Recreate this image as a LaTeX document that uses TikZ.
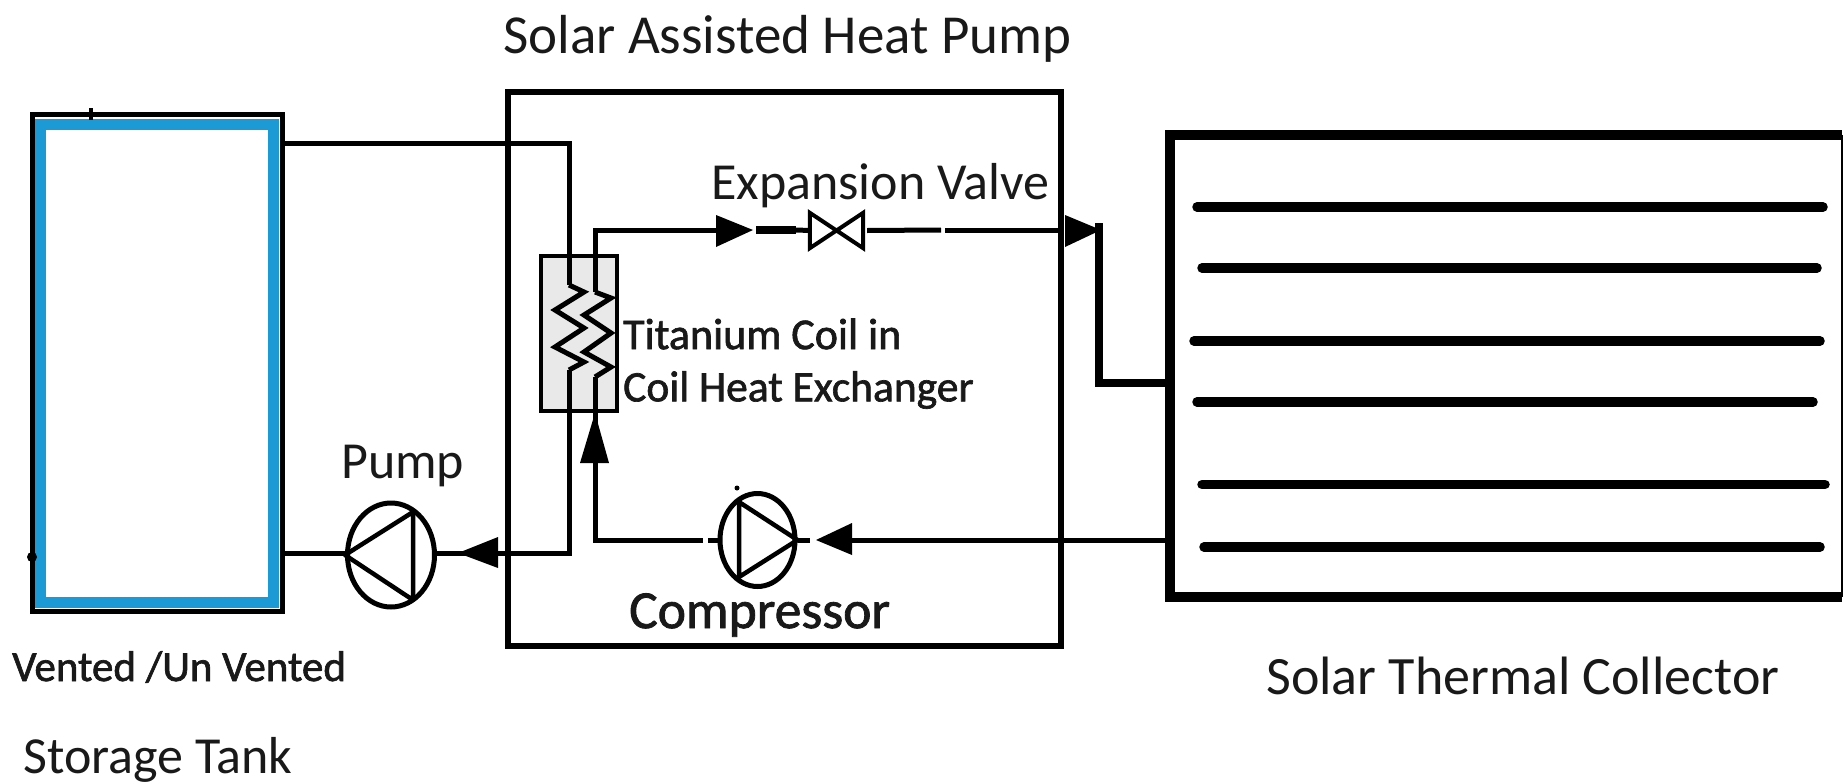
\documentclass[tikz,border=0pt]{standalone}
\usepackage{fontspec}
\setmainfont{Carlito}
\newfontfamily\semibold[FakeBold=1.5]{Carlito}
\usetikzlibrary{arrows.meta,shapes.geometric}
\definecolor{tankblue}{HTML}{1B9AD6}
\definecolor{hxgrey}{HTML}{E9E9E9}
\tikzset{
  pipe/.style={line width=5pt,black,line join=miter},
  thickpipe/.style={line width=8pt,black,line join=miter},
  flowhead/.style={line width=0pt,draw=none,fill=black},
  lbl/.style={anchor=west,inner sep=0pt,text=black!90},
  machine/.style={draw=black,ellipse,line width=5pt,inner sep=0pt,fill=white},
  bar/.style={line width=9.5pt,black,line cap=round},
  box/.style={draw=black,rectangle,inner sep=0pt}
}
\begin{document}
\begin{tikzpicture}[x=1pt,y=-1pt]
\useasboundingbox (0,0) rectangle (1844,784);
\fill[white] (0,0) rectangle (1844,784);
% enclosures
\node[box,draw=tankblue,line width=11pt,minimum width=232.5pt,minimum height=477.5pt] (tankin) at (156.75,363.25) {};
\node[box,line width=5pt,minimum width=250pt,minimum height=496.5pt] (tank) at (157.5,362.75) {};
\node[box,line width=5.5pt,minimum width=553pt,minimum height=554pt] (hp) at (784.5,369) {};
\node[box,draw=none,minimum width=672pt,minimum height=462pt] (collector) at (1506,366) {};
\draw[line width=10pt,line join=miter] (collector.north east) -- (collector.north west) -- (collector.south west) -- (collector.south east);
\draw[line width=1.6pt] (collector.north east) -- (collector.south east);
\node[box,line width=4pt,fill=hxgrey,minimum width=76pt,minimum height=155pt] (hx) at (579,333.5) {};
% tank ticks
\draw[line width=4pt] (91,108) -- (91,120);
\fill (32,557) circle (5pt);
% components
\node[machine,minimum width=87pt,minimum height=104pt] (pump) at (391,555) {};
\node[machine,minimum width=75pt,minimum height=93pt] (comp) at (757.5,540) {};
\node[box,draw=none,minimum height=35pt,minimum width=53pt] (valve) at (836.5,230.5) {};
\draw[line width=4pt,line join=miter] (valve.north west) -- (valve.south west) -- (valve.north east) -- (valve.south east) -- cycle;
\draw[line width=4.5pt,line join=round] (pump.west) -- (413,512) -- (413,600) -- cycle;
\draw[line width=4.5pt,line join=round] (comp.east) -- (739,502) -- (739,577) -- cycle;
\fill (737,488) circle (2.5pt);
% coordinates
\coordinate (c1a) at (569,285); \coordinate (c1b) at (569,370);
\coordinate (c2a) at (595,292); \coordinate (c2b) at (595,377);
% coils
\draw[line width=5pt,line join=miter] (c1a) -- (584,292) -- (555,310) -- (584,328) -- (555,347) -- (584,362) -- (c1b);
\draw[line width=5pt,line join=miter] (c2a) -- (611,298) -- (584,315) -- (611,333) -- (584,352) -- (611,367) -- (c2b);
% water loop
\draw[pipe] (tank.east |- 0,143) -- (569,143) -- (c1a);
\draw[pipe] (c1b) -- (569,553) -- (pump.east |- 0,553);
\draw[pipe] (pump.west |- 0,553) -- (tank.east |- 0,553);
% refrigerant loop
\draw[pipe] (c2a) -- (595,230) -- (716,230);
\draw[line width=8pt] (756,230) -- (796,230);
\draw[pipe] (796,230) -- (valve.west);
\draw[pipe] (valve.east) ++(4,0) -- (941,230);
\draw[pipe] (945,230) -- (1058,230);
\draw[thickpipe] (1099,223) -- (1099,383) -- (collector.west |- 0,383);
\draw[pipe] (c2b) -- (595,540) -- (703,540);
\draw[pipe] (708,540) -- (comp.west);
\draw[pipe] (comp.east) -- (810,540);
\draw[pipe] (852,540) -- (collector.west |- 0,540);
% flow arrowheads
\fill[flowhead] (716,215) -- (753,230) -- (716,247) -- cycle;
\fill[flowhead] (1065,215) -- (1101,230) -- (1065,247) -- cycle;
\fill[flowhead] (498,537) -- (458,553) -- (498,568) -- cycle;
\fill[flowhead] (852,523) -- (816,540) -- (852,555) -- cycle;
\fill[flowhead] (580,463) -- (595,413) -- (609,463) -- cycle;
% collector bars
\draw[bar] (1197,207) -- (1823,207);
\draw[bar] (1202,268) -- (1817,268);
\draw[bar] (1194,341) -- (1820,341);
\draw[bar] (1197,402) -- (1813,402);
\draw[bar] (1202,484.5) -- (1825,484.5);
\draw[bar] (1204,547) -- (1820,547);
% labels
\node[lbl,font=\fontsize{55}{55}\selectfont] (t1) at (503,39) {Solar Assisted Heat Pump};
\node[lbl,font=\fontsize{52}{52}\selectfont] (t2) at (711,186) {Expansion Valve};
\node[lbl,font=\fontsize{52}{52}\selectfont] (t3) at (341,466) {Pump};
\node[lbl,font=\semibold\fontsize{53.5}{54}\selectfont] (t4) at (629,615) {Compressor};
\node[lbl,font=\fontsize{54}{54}\selectfont] (t5) at (1266,676) {Solar Thermal Collector};
\node[lbl,font=\fontsize{52}{52}\selectfont] (t6) at (23,760) {Storage Tank};
\node[lbl,font=\semibold\fontsize{43}{43}\selectfont] (t7) at (12,667) {Vented /Un Vented};
\node[lbl,font=\semibold\fontsize{44}{44}\selectfont] (t8) at (623,334) {Titanium Coil in};
\node[lbl,font=\semibold\fontsize{43.5}{44}\selectfont] (t9) at (623,390) {Coil Heat Exchanger};
\end{tikzpicture}
\end{document}
